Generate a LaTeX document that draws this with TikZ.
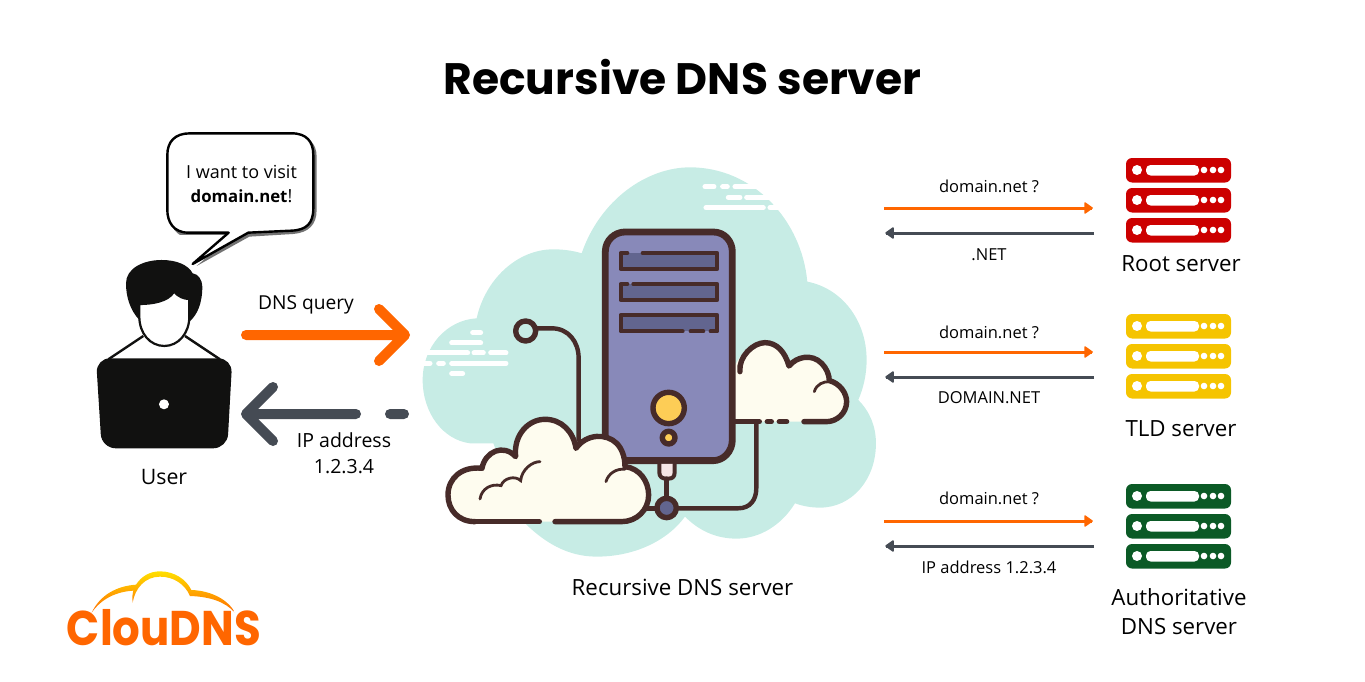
\documentclass[tikz,border=0pt]{standalone}
\usepackage{fontspec}
\setmainfont{Open Sans}
\newfontfamily\titlefont{Poppins}
\definecolor{aqua}{HTML}{C7ECE5}
\definecolor{ink}{HTML}{472B29}
\definecolor{tower}{HTML}{8889B9}
\definecolor{slot}{HTML}{62658F}
\definecolor{puff}{HTML}{FEFCEF}
\definecolor{amber}{HTML}{FDCD56}
\definecolor{plugpink}{HTML}{F6E6E6}
\definecolor{flame}{HTML}{FF6600}
\definecolor{slate}{HTML}{454B54}
\definecolor{blackish}{HTML}{111110}
\definecolor{rootred}{HTML}{CC0000}
\definecolor{tldyellow}{HTML}{F5C400}
\definecolor{authgreen}{HTML}{0B5A26}
\tikzset{
  lbl/.style={inner sep=0pt,text=black,font=\fontsize{18}{24}\selectfont,align=center},
  big/.style={inner sep=0pt,text=black,font=\fontsize{22.3}{29}\selectfont,align=center},
  small/.style={inner sep=0pt,text=black,font=\fontsize{16.5}{18}\selectfont,align=center},
  icon/.style={draw=ink,line width=5.4pt,line cap=round,line join=round},
  slotline/.style={draw=ink,line width=4pt,line cap=round,line join=round},
  wire/.style={draw=ink,line width=4.4pt,line cap=round},
  thin curl/.style={draw=ink,line width=2.8pt,line cap=round},
  bigarrow/.style={line width=10pt,line cap=round,line join=round},
  thinarrow/.style={line width=3pt},
  smalltip/.style={line width=1.5pt,line join=round},
  wisp/.style={line width=5pt,white,line cap=round}
}
\newcommand{\serverstack}[3]{% x, y, colour
  \foreach \r in {0,30,60}{
    \fill[#3,rounded corners=6pt] (#1,#2+\r) rectangle ++(105,24.5);
    \fill[white] (#1+11,#2+\r+12) circle (5);
    \fill[white,rounded corners=4.5pt] (#1+20,#2+\r+7) rectangle ++(53,10.5);
    \foreach \d in {78,87,95}{\fill[white] (#1+\d,#2+\r+12) circle (3.3);}
  }}
\begin{document}
\begin{tikzpicture}[x=1pt,y=-1pt]
\useasboundingbox (0,0) rectangle (1365,682);
\node[inner sep=0pt,font=\titlefont\bfseries\fontsize{44}{50}\selectfont] (title) at (682.5,77) {Recursive DNS server};

% ---------- central illustration (coordinates of a 3x crop)
\begin{scope}[shift={(420,160)},x=0.3333pt,y=-0.3333pt]
  \fill[aqua] (485,280) .. controls (540,120) and (680,22) .. (810,22)
    .. controls (1000,22) and (1145,180) .. (1162,365)
    .. controls (1265,385) and (1340,480) .. (1340,600)
    .. controls (1340,645) and (1330,685) .. (1315,720)
    .. controls (1350,755) and (1368,800) .. (1368,850)
    .. controls (1368,960) and (1295,1043) .. (1200,1043)
    .. controls (1172,1043) and (1147,1038) .. (1125,1030)
    .. controls (1085,1095) and (1020,1136) .. (950,1136)
    .. controls (885,1136) and (835,1110) .. (795,1070)
    .. controls (740,1145) and (640,1190) .. (530,1190)
    .. controls (440,1190) and (370,1145) .. (310,1085)
    -- (220,850) -- (150,850)
    .. controls (70,840) and (8,760) .. (8,660)
    .. controls (8,560) and (80,480) .. (170,475)
    .. controls (195,360) and (290,268) .. (400,268)
    .. controls (430,268) and (460,272) .. (485,280) -- cycle;
  % wisps
  \foreach \a/\b/\c in {855/882/80,908/922/80,945/1030/80,925/960/112,980/1060/112,858/1030/143,1050/1080/143,
                        158/182/518,95/182/549,20/143/579,162/190/579,212/258/579,12/30/610,56/70/610,95/258/610,95/128/641}{
    \draw[wisp] (\a,\c) -- (\b,\c);}
  % stem to the left probe
  \draw[wire] (352,505) -- (395,505) .. controls (445,505) and (476,545) .. (476,595) -- (476,840);
  \draw[icon,fill=aqua] (317,513) circle (30);
  % right cloud
  \fill[puff] (940,785) -- (940,630) .. controls (960,575) and (1000,548) .. (1035,548)
    .. controls (1070,548) and (1095,575) .. (1107,618)
    .. controls (1130,590) and (1175,580) .. (1205,610)
    .. controls (1220,625) and (1228,645) .. (1228,662)
    .. controls (1260,670) and (1280,700) .. (1280,725)
    .. controls (1280,760) and (1250,785) .. (1220,785) -- cycle;
  \draw[icon] (960,635) .. controls (955,590) and (1000,548) .. (1035,548)
    .. controls (1070,548) and (1095,575) .. (1107,618)
    .. controls (1130,590) and (1175,580) .. (1205,610)
    .. controls (1220,625) and (1228,645) .. (1228,662)
    .. controls (1260,670) and (1280,700) .. (1280,725)
    .. controls (1280,760) and (1250,785) .. (1220,785) -- (1152,785);
  \draw[icon] (945,785) -- (1018,785) (1042,785) -- (1054,785) (1078,785) -- (1100,785);
  \draw[thin curl] (1183,695) .. controls (1190,672) and (1210,665) .. (1228,665);
  % tower
  \draw[line width=6.8pt,draw=ink,fill=tower,line join=round] (556,275) .. controls (556,240) and (585,216) .. (615,216)
    -- (880,216) .. controls (915,216) and (937,245) .. (937,275) -- (937,840)
    .. controls (937,875) and (910,902) .. (880,902) -- (615,902)
    .. controls (585,902) and (556,875) .. (556,840) -- cycle;
  \fill[slot] (602,279) rectangle (892,327);
  \fill[slot] (602,372) rectangle (892,420);
  \fill[slot] (602,465) rectangle (892,514);
  \draw[slotline] (668,279) -- (892,279) -- (892,327) -- (602,327) -- (602,279) -- (622,279);
  \draw[slotline] (640,372) -- (892,372) -- (892,420) -- (602,420) -- (602,372) -- (622,372);
  \draw[slotline] (788,514) -- (602,514) -- (602,465) -- (892,465) -- (892,514) -- (872,514) (850,514) -- (812,514);
  \draw[icon,fill=amber] (746,744) circle (47);
  \draw[icon,fill=amber] (746,833) circle (19);
  % plug and network
  \draw[slotline,fill=plugpink] (718,912) -- (718,937) .. controls (718,950) and (726,956) .. (738,956)
    -- (746,956) .. controls (758,956) and (764,950) .. (764,937) -- (764,912);
  \draw[wire] (740,956) -- (740,1012);
  \draw[wire] (672,1045) -- (708,1045);
  \draw[wire] (772,1045) -- (955,1045) .. controls (990,1045) and (1009,1020) .. (1009,985) -- (1009,790);
  \draw[icon,fill=slot] (740,1044) circle (29);
  % left cloud
  \def\leftcloud{(165,1085) .. controls (115,1085) and (84,1050) .. (84,1005)
    .. controls (84,955) and (125,918) .. (186,925)
    .. controls (195,875) and (250,850) .. (287,890)
    .. controls (280,825) and (325,778) .. (375,778)
    .. controls (425,778) and (460,815) .. (468,865)
    .. controls (500,820) and (560,820) .. (590,850)
    .. controls (605,865) and (615,890) .. (615,920)
    .. controls (660,925) and (686,965) .. (686,1005)
    .. controls (686,1050) and (650,1085) .. (605,1085)}
  \fill[puff] \leftcloud -- cycle;
  \draw[icon] \leftcloud -- (405,1085);
  \draw[icon] (165,1085) -- (358,1085);
  \draw[thin curl] (180,1017) .. controls (185,985) and (215,970) .. (243,977)
    .. controls (250,955) and (285,945) .. (302,962)
    .. controls (305,930) and (335,905) .. (360,905);
  \draw[thin curl] (558,965) .. controls (565,940) and (590,925) .. (615,928);
\end{scope}
\node[big] (dnslabel) at (682.5,587) {Recursive DNS server};

% ---------- user
\begin{scope}[shift={(80,120)},x=0.3333pt,y=-0.3333pt]
  % speech bubble shadow
  \fill[black!55] (350,438) -- (458,345) -- (300,345) .. controls (275,330) and (268,300) .. (268,270)
     -- (268,110) .. controls (268,70) and (290,45) .. (335,45) -- (640,45)
     .. controls (685,45) and (710,70) .. (710,110) -- (710,270) .. controls (710,315) and (685,338) .. (640,342)
     -- (508,350) -- cycle;
  \draw[fill=white,draw=black,line width=2.4pt,line join=round] (338,432) -- (446,338) -- (325,338)
     .. controls (280,338) and (262,305) .. (262,270) -- (262,105)
     .. controls (262,65) and (285,40) .. (330,40) -- (635,40)
     .. controls (680,40) and (700,65) .. (700,105) -- (700,265)
     .. controls (700,310) and (680,330) .. (635,332) -- (505,338) -- cycle;
  % hair
  \fill[blackish] (178,600) .. controls (150,570) and (138,530) .. (138,490)
     .. controls (138,445) and (190,420) .. (245,420)
     .. controls (290,420) and (325,435) .. (338,460)
     .. controls (355,462) and (367,480) .. (367,500)
     .. controls (367,550) and (352,585) .. (328,605) -- cycle;
  % face
  \draw[fill=white,draw=blackish,line width=2.2pt] (178,552) .. controls (215,552) and (265,545) .. (282,515)
     .. controls (295,530) and (312,537) .. (328,537) -- (328,590)
     .. controls (328,640) and (295,678) .. (253,678)
     .. controls (210,678) and (178,640) .. (178,590) -- cycle;
  % shoulders
  \draw[blackish,line width=2.4pt] (190,648) -- (85,718) (315,648) -- (420,718);
  % laptop
  \fill[blackish,rounded corners=14pt] (48,715) -- (457,715) -- (442,985) -- (65,985) -- cycle;
  \fill[white] (252,853) circle (15);
\end{scope}
\node[lbl] (bubbletext) at (241.5,184.5) {I want to visit\\{\fontsize{16.8}{24}\selectfont\textbf{domain.net}}!};
\node[big,font=\fontsize{21.3}{24}\selectfont] (userlabel) at (164,477) {User};
\node[lbl,font=\fontsize{19.2}{22}\selectfont] (dnsquery) at (306,305) {DNS query};
\node[lbl,font=\fontsize{19.5}{26}\selectfont] (ipaddr) at (344,453) {IP address\\1.2.3.4};

% big arrows
\coordinate (qs) at (246,335); \coordinate (qe) at (405,335);
\coordinate (qa) at (379,309); \coordinate (qb) at (379,361);
\draw[bigarrow,flame] (qs) -- (qe) (qa) -- (qe) -- (qb);
\coordinate (rs) at (356,414); \coordinate (re) at (246,414);
\coordinate (ra) at (273,387); \coordinate (rb) at (273,441);
\coordinate (rd) at (390,414); \coordinate (rf) at (404,414);
\draw[bigarrow,slate] (rs) -- (re) (ra) -- (re) -- (rb) (rd) -- (rf);

% right column
\serverstack{1126}{158}{rootred}
\serverstack{1126}{314}{tldyellow}
\serverstack{1126}{484}{authgreen}
\foreach \n/\y/\t in {a/186/{domain.net ?},b/332/{domain.net ?},c/498/{domain.net ?}}{
  \node[small] (q\n) at (989,\y) {\t};}
\node[small] (r1) at (989,254.5) {.NET};
\node[small] (r2) at (989,397.5) {DOMAIN.NET};
\node[small] (r3) at (989,567) {IP address 1.2.3.4};
\foreach \n/\y/\z in {a/208/233,b/352/377,c/521/546}{
  \coordinate (L\n) at (884,\y); \coordinate (R\n) at (1092,\y);
  \coordinate (M\n) at (886,\z); \coordinate (N\n) at (1094,\z);
  \draw[thinarrow,flame] (L\n) -- (R\n);
  \filldraw[smalltip,flame] (R\n) -- ++(-7,-5) -- ++(0,10) -- cycle;
  \draw[thinarrow,slate] (N\n) -- (M\n);
  \filldraw[smalltip,slate] (M\n) -- ++(7,-5) -- ++(0,10) -- cycle;
}
\node[big] (rootlabel) at (1181,264) {Root server};
\node[big] (tldlabel) at (1181,429) {TLD server};
\node[big] (authlabel) at (1179,612) {Authoritative\\DNS server};

% logo
\begin{scope}[shift={(50,560)},x=0.3333pt,y=-0.3333pt]
  \shade[top color=yellow!75!orange,bottom color=orange!85!red,even odd rule]
    (125,158) .. controls (150,105) and (200,78) .. (258,74)
    .. controls (275,48) and (300,34) .. (330,34)
    .. controls (375,34) and (410,60) .. (424,90)
    .. controls (485,92) and (535,120) .. (555,158)
    .. controls (525,125) and (480,110) .. (420,108)
    .. controls (405,72) and (370,50) .. (330,50)
    .. controls (285,50) and (255,85) .. (248,128)
    .. controls (246,110) and (248,100) .. (250,92)
    .. controls (200,95) and (155,115) .. (125,158) -- cycle;
\end{scope}
\node[inner sep=0pt,text=flame,yscale=1.12,transform shape,font=\titlefont\bfseries\fontsize{43.5}{50}\selectfont] (logo) at (164,628) {ClouDNS};
\end{tikzpicture}
\end{document}
